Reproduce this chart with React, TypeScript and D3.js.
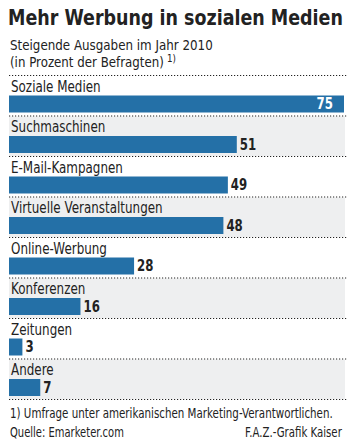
import React, { useLayoutEffect, useRef, useState } from "react";
import * as d3 from "d3";

const categories = [
  "Soziale Medien",
  "Suchmaschinen",
  "E-Mail-Kampagnen",
  "Virtuelle Veranstaltungen",
  "Online-Werbung",
  "Konferenzen",
  "Zeitungen",
  "Andere",
];
const values = [75, 51, 49, 48, 28, 16, 3, 7];

const title = "Mehr Werbung in sozialen Medien";
const subtitle1 = "Steigende Ausgaben im Jahr 2010";
const subtitle2 = "(in Prozent der Befragten)";
const footnote = "1) Umfrage unter amerikanischen Marketing-Verantwortlichen.";
const source = "Quelle: Emarketer.com";
const credit = "F.A.Z.-Grafik Kaiser";

const W = 355;
const H = 443;
const FONT = "'DejaVu Sans', sans-serif";
const BLUE = "#2470a7";
const GRAY = "#eeeff0";
const INK = "#222";

type TxtProps = {
  x: number;
  y: number;
  sx?: number;
  fit?: number;
  anchor?: "start" | "end";
  size: number;
  bold?: boolean;
  fill?: string;
  children: React.ReactNode;
};

function Txt({ x, y, sx = 1, fit, anchor = "start", size, bold, fill = INK, children }: TxtProps) {
  const ref = useRef<SVGTextElement>(null);
  const [k, setK] = useState(sx);
  useLayoutEffect(() => {
    if (fit && ref.current) {
      const w = ref.current.getComputedTextLength();
      if (w > 0) setK(fit / w);
    }
  }, [fit]);
  return (
    <text
      ref={ref}
      transform={`translate(${x},${y}) scale(${k},1)`}
      fontSize={size}
      fontWeight={bold ? "bold" : "normal"}
      textAnchor={anchor}
      fill={fill}
    >
      {children}
    </text>
  );
}

export default function App() {
  const left = 9;
  const top = 75;
  const pitch = 40.5;
  const x = d3.scaleLinear().domain([0, 75]).range([0, 335]);
  const y = d3
    .scaleBand<string>()
    .domain(categories)
    .range([top, top + pitch * categories.length])
    .paddingInner(0)
    .paddingOuter(0);

  const LABEL_K = 0.77;
  const VALUE_K = 0.76;

  return (
    <svg
      width={W}
      height={H}
      style={{ position: "absolute", left: 0, top: 0, background: "#fff" }}
      fontFamily={FONT}
    >
      <Txt x={8} y={25} size={20.5} bold fit={335}>
        {title}
      </Txt>
      <Txt x={10} y={50} size={14.5} fit={203}>
        {subtitle1}
      </Txt>
      <Txt x={10} y={66.5} size={14.5} fit={154}>
        {subtitle2}
      </Txt>
      <Txt x={167} y={62} size={10} fit={9}>
        1)
      </Txt>

      {categories.map((c, i) => {
        const y0 = y(c)!;
        const v = values[i];
        const inside = v >= 60;
        return (
          <g key={c}>
            {i % 2 === 1 && (
              <rect x={left} y={y0 + 1} width={336} height={pitch - 1} fill={GRAY} />
            )}
            <line
              x1={left}
              x2={347}
              y1={y0 + 0.5}
              y2={y0 + 0.5}
              stroke={INK}
              strokeWidth={1}
              strokeDasharray="1.2 1.8"
            />
            <Txt x={left + 2} y={y0 + 16.5} size={15.5} sx={LABEL_K}>
              {c}
            </Txt>
            <rect x={left} y={y0 + 20.5} width={x(v)} height={17} fill={BLUE} />
            <Txt
              x={inside ? left + x(v) - 11 : left + x(v) + 3}
              y={y0 + 34}
              size={15.5}
              bold
              sx={VALUE_K}
              anchor={inside ? "end" : "start"}
              fill={inside ? "#fff" : INK}
            >
              {v}
            </Txt>
          </g>
        );
      })}
      <line
        x1={left}
        x2={347}
        y1={top + pitch * categories.length + 0.5}
        y2={top + pitch * categories.length + 0.5}
        stroke={INK}
        strokeWidth={1}
        strokeDasharray="1.2 1.8"
      />

      <Txt x={10} y={418} size={13.5} fit={323}>
        {footnote}
      </Txt>
      <Txt x={10} y={437} size={13.5} fit={114}>
        {source}
      </Txt>
      <Txt x={245} y={437} size={13.5} fit={97}>
        {credit}
      </Txt>
    </svg>
  );
}
